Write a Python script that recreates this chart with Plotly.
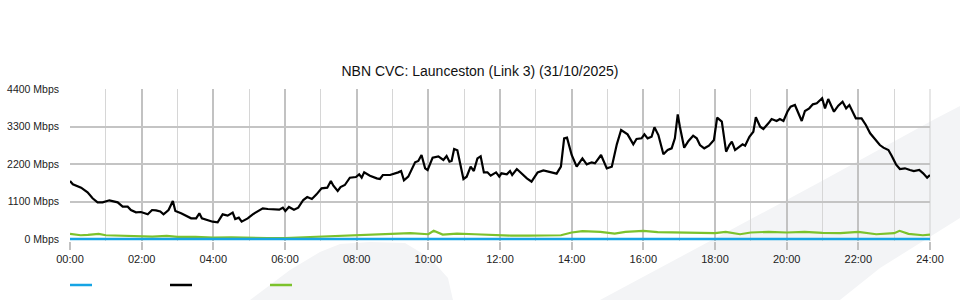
import plotly.graph_objects as go

# ---- data (hours since midnight, Mbps) ----
black_hours = [0.00, 0.08, 0.31, 0.49, 0.63, 0.77, 0.91, 1.10, 1.33, 1.47, 1.61, 1.70, 1.84, 1.98,
               2.17, 2.29, 2.40, 2.52, 2.61, 2.75, 2.87, 2.94, 3.10, 3.24, 3.38, 3.52, 3.61, 3.68,
               3.84, 3.98, 4.12, 4.26, 4.40, 4.54, 4.61, 4.71, 4.79, 4.96, 5.10, 5.24, 5.38, 5.52,
               5.70, 5.84, 5.94, 6.01, 6.11, 6.25, 6.37, 6.51, 6.62, 6.75, 6.88, 7.02, 7.18, 7.28,
               7.35, 7.47, 7.55, 7.67, 7.81, 7.98, 8.07, 8.14, 8.21, 8.37, 8.56, 8.65, 8.73, 8.93,
               9.16, 9.24, 9.32, 9.44, 9.63, 9.72, 9.81, 9.91, 9.98, 10.12, 10.28, 10.42, 10.51,
               10.59, 10.65, 10.72, 10.81, 10.98, 11.07, 11.18, 11.27, 11.37, 11.46, 11.55, 11.65,
               11.74, 11.89, 11.98, 12.04, 12.19, 12.28, 12.34, 12.47, 12.56, 12.75, 12.88, 13.05,
               13.21, 13.40, 13.58, 13.70, 13.79, 13.87, 14.00, 14.14, 14.30, 14.42, 14.56, 14.65,
               14.82, 14.98, 15.12, 15.26, 15.38, 15.56, 15.72, 15.81, 15.95, 16.03, 16.12, 16.23,
               16.31, 16.42, 16.56, 16.68, 16.79, 16.88, 16.96, 17.02, 17.14, 17.26, 17.39, 17.49,
               17.58, 17.70, 17.83, 17.97, 18.06, 18.19, 18.31, 18.40, 18.47, 18.56, 18.68, 18.77,
               18.84, 18.96, 19.07, 19.14, 19.26, 19.35, 19.49, 19.58, 19.72, 19.81, 19.91, 20.02,
               20.11, 20.23, 20.42, 20.51, 20.63, 20.73, 20.84, 20.99, 21.07, 21.16, 21.32, 21.44,
               21.56, 21.66, 21.75, 21.84, 21.93, 22.09, 22.21, 22.33, 22.47, 22.60, 22.70, 22.84,
               22.93, 23.05, 23.16, 23.30, 23.44, 23.55, 23.70, 23.81, 23.92, 24.00]
black_mbps = [1701, 1604, 1505, 1369, 1193, 1076, 1076, 1135, 1076, 948, 948, 850, 782, 792,
              724, 850, 840, 810, 724, 850, 1114, 821, 753, 684, 606, 606, 753, 606,
              557, 508, 489, 724, 684, 772, 587, 626, 508, 606, 724, 821, 899, 880,
              880, 860, 919, 821, 939, 860, 919, 1144, 1232, 1173, 1310, 1486, 1505, 1701,
              1564, 1408, 1525, 1584, 1799, 1818, 1897, 1799, 1955, 1857, 1780, 1760, 1877, 1877,
              1955, 1994, 1721, 1828, 2249, 2288, 2464, 2073, 2024, 2385, 2425, 2317, 2435,
              2268, 2288, 2640, 2601, 1760, 1828, 2121, 1994, 2366, 2425, 1955, 1955,
              1857, 1955, 1828, 1926, 1897, 1994, 1877, 2053, 1955, 1780, 1682, 1955,
              2014, 1955, 1916, 2121, 2953, 2973, 2464, 2121, 2366, 2190, 2249, 2220,
              2464, 2073, 2121, 2777, 3197, 3070, 2777, 2933, 2953, 3070, 2953, 3000,
              3276, 3050, 2484, 2610, 2660, 2953, 3657, 3294, 2679, 2874, 3030, 2953,
              2757, 2660, 2737, 2904, 3558, 3441, 2561, 2757, 2854, 2610, 2708, 2777,
              2737, 3000, 3147, 3570, 3294, 3226, 3393, 3520, 3461, 3520, 3461, 3734,
              3881, 3930, 3461, 3754, 3833, 3950, 3980, 4127, 3833, 4107, 3734, 3910,
              4028, 3833, 3930, 3734, 3540, 3540, 3344, 3100, 2933, 2757, 2679, 2610,
              2443, 2190, 2053, 2073, 2024, 1994, 2024, 1926, 1799, 1877]

green_hours = [0.0, 0.3, 0.5, 0.8, 1.0, 1.5, 2.0, 2.3, 2.7, 3.0, 3.5, 4.0, 4.5, 5.0, 5.5, 6.0,
               6.5, 7.0, 7.5, 8.0, 8.5, 9.0, 9.5, 10.0, 10.15, 10.4, 10.8, 11.3, 11.8, 12.3,
               12.8, 13.3, 13.7, 14.0, 14.3, 14.8, 15.2, 15.5, 16.0, 16.4, 17.0, 17.5, 18.0,
               18.3, 18.7, 19.0, 19.5, 20.0, 20.5, 21.0, 21.5, 22.0, 22.5, 23.0, 23.15, 23.4,
               23.8, 24.0]
green_mbps = [150, 110, 120, 150, 110, 100, 90, 70, 90, 60, 60, 40, 50, 30, 30, 30,
              50, 60, 70, 100, 110, 130, 170, 140, 240, 130, 160, 140, 110, 100,
              100, 100, 110, 190, 230, 210, 160, 210, 240, 200, 190, 160, 170,
              210, 140, 190, 210, 190, 210, 180, 170, 210, 140, 170, 240, 150,
              110, 130]

blue_hours = [0, 24]
blue_mbps = [0, 0]

tick_hours = list(range(0, 25, 2))
tick_labels = [f"{h:02d}:00" for h in tick_hours]
y_ticks = [0, 1100, 2200, 3300, 4400]
y_labels = [f"{v} Mbps" for v in y_ticks]

title_text = "NBN CVC: Launceston (Link 3) (31/10/2025)"
colors = ["#16a4e4", "#000000", "#7cc22c"]

# ---- figure ----
fig = go.Figure()
fig.add_trace(go.Scatter(x=green_hours, y=green_mbps, mode="lines",
                         line=dict(color=colors[2], width=2.2), showlegend=False))
fig.add_trace(go.Scatter(x=blue_hours, y=blue_mbps, mode="lines",
                         line=dict(color=colors[0], width=2.5), showlegend=False))
fig.add_trace(go.Scatter(x=black_hours, y=black_mbps, mode="lines",
                         line=dict(color=colors[1], width=2.2), showlegend=False))

# plot geometry (pixels): left 70, right 930, top 89, zero at 239, bottom 241
top_px, bottom_px = 89, 241
h_px = bottom_px - top_px
def py(p):
    return (bottom_px - p) / h_px
def px(p):
    return (p - 70) / 860.0

wm = "#f3f4f6"
shapes = []
# background watermark shapes
band = [(600, 300), (712, 240), (820, 182), (935, 119), (960, 106),
        (960, 218), (880, 268), (840, 300)]
left_blob = [(250, 300), (290, 270), (320, 252), (340, 244), (370, 242), (405, 243),
             (430, 258), (448, 278), (453, 300)]
for poly in (band, left_blob):
    path = "M " + " L ".join(f"{px(a):.4f},{py(b):.4f}" for a, b in poly) + " Z"
    shapes.append(dict(type="path", path=path, xref="paper", yref="paper",
                       fillcolor=wm, line=dict(width=0), layer="below"))
# legend swatches
for i, c in enumerate(colors):
    x0 = 70 + 100 * i
    shapes.append(dict(type="line", xref="paper", yref="paper",
                       x0=px(x0), x1=px(x0 + 22), y0=py(285), y1=py(285),
                       line=dict(color=c, width=2.5)))
# right frame
shapes.append(dict(type="line", xref="paper", yref="paper", x0=1, x1=1, y0=0, y1=1,
                   line=dict(color="#cfcfcf", width=1), layer="below"))

font_family = "Liberation Sans, Arial, sans-serif"
fig.update_layout(
    width=960, height=300,
    margin=dict(l=70, r=30, t=top_px, b=300 - bottom_px, pad=0, autoexpand=False),
    paper_bgcolor="white", plot_bgcolor="rgba(0,0,0,0)",
    font=dict(family=font_family, size=11, color="#222222"),
    title=dict(text=title_text, x=0.5, xref="container", xanchor="center",
               y=1 - 71 / 300, yref="container", yanchor="middle",
               font=dict(size=14, color="#111111", family=font_family)),
    shapes=shapes,
    showlegend=False,
)
fig.update_xaxes(range=[0, 24], tickvals=tick_hours, ticktext=tick_labels,
                 showgrid=True, gridcolor="#c2c2c2", gridwidth=1.5,
                 ticks="outside", ticklen=8, tickcolor="#c2c2c2", tickwidth=1.5,
                 minor=dict(dtick=1, tick0=0, showgrid=True, gridcolor="#d6d6d6",
                            gridwidth=1, ticks=""),
                 zeroline=False, showline=False, fixedrange=True, automargin=False,
                 tickfont=dict(size=11, color="#222222"))
zero_extra = (bottom_px - 239) * 4400 / 150
fig.update_yaxes(range=[-zero_extra, 4400], tickvals=y_ticks, ticktext=y_labels,
                 showgrid=True, gridcolor="#c4c4c4", gridwidth=2,
                 zeroline=False, showline=False, ticks="", ticklabelstandoff=10,
                 tickfont=dict(size=10.5, color="#222222"), fixedrange=True, automargin=False)

fig.write_html("out.html")
